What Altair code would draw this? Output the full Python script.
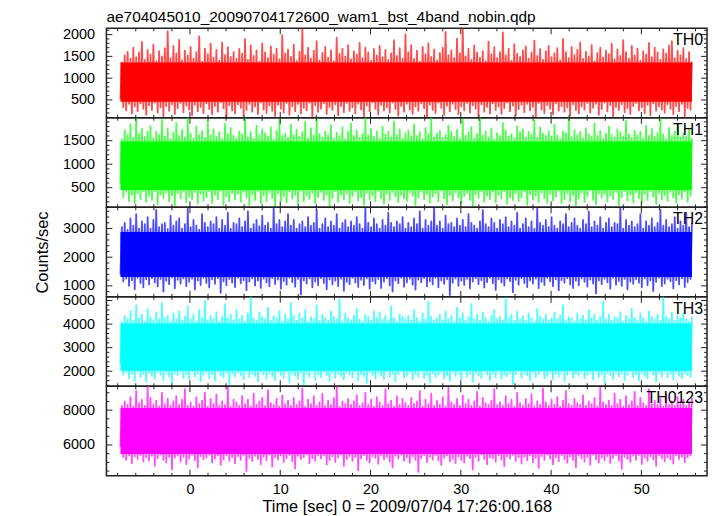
import altair as alt
import pandas as pd

TITLE = "ae704045010_20090704172600_wam1_bst_4band_nobin.qdp"
X_TITLE = "Time [sec] 0 = 2009/07/04 17:26:00.168"
Y_TITLE = "Counts/sec"
BANDS = ["TH0", "TH1", "TH2", "TH3", "TH0123"]
COLORS = ["#ff0000", "#00ff00", "#0000ff", "#00ffff", "#ff00ff"]

T_START, T_END = -7.7, 55.6
X_DOMAIN = [-9.25, 57.27]
Y_DOMAINS = [[89, 2144], [83, 1986], [618, 3740], [1359, 5158], [4229, 9371]]
# densely filled part of each trace (lower, upper)
CORE = [[460, 1360], [450, 1480], [1310, 2880], [2020, 4030], [5480, 8120]]

X_MAJOR = [0, 10, 20, 30, 40, 50]
X_MINOR = [-8, -6, -4, -2, 2, 4, 6, 8, 12, 14, 16, 18, 22, 24, 26, 28, 32, 34, 36, 38,
           42, 44, 46, 48, 52, 54, 56]
Y_MAJOR = [
    [500, 1000, 1500, 2000],
    [500, 1000, 1500],
    [1000, 2000, 3000],
    [2000, 3000, 4000, 5000],
    [6000, 8000],
]
Y_MINOR = [
    [100, 200, 300, 400, 600, 700, 800, 900, 1100, 1200, 1300, 1400, 1600, 1700, 1800, 1900, 2100],
    [100, 200, 300, 400, 600, 700, 800, 900, 1100, 1200, 1300, 1400, 1600, 1700, 1800, 1900],
    [800, 1200, 1400, 1600, 1800, 2200, 2400, 2600, 2800, 3200, 3400, 3600],
    [1400, 1600, 1800, 2200, 2400, 2600, 2800, 3200, 3400, 3600, 3800, 4200, 4400, 4600, 4800],
    [4500, 5000, 5500, 6500, 7000, 7500, 8500, 9000],
]

TH0 = [
    520, 1360, 330, 1520, 260, 1610, 410, 1450, 190, 1700, 350, 1480, 240, 1590, 420, 1830, 300, 1420, 160, 1650,
    380, 1540, 270, 1770, 440, 1390, 210, 1620, 330, 1500, 120, 1690, 360, 2080, 250, 1460, 400, 1740, 180, 1570,
    310, 1880, 430, 1410, 220, 1630, 370, 1520, 280, 1720, 150, 1450, 390, 1600, 240, 1960, 340, 1380, 200, 1680,
    420, 1550, 290, 1790, 170, 1470, 360, 1650, 230, 1400, 450, 1820, 310, 1530, 100, 1710, 380, 1490, 260, 1600,
    190, 1440, 400, 1670, 320, 1560, 140, 1900, 270, 1420, 410, 1750, 230, 1510, 350, 1640, 180, 1380, 440, 1800,
    280, 1590, 200, 1460, 370, 1730, 250, 1540, 130, 1680, 390, 1430, 300, 1990, 210, 1570, 430, 1660, 160, 1490,
    350, 1770, 240, 1400, 410, 1610, 190, 2150, 320, 1520, 260, 1700, 440, 1450, 110, 1630, 380, 1850, 230, 1410,
    300, 1580, 420, 1720, 180, 1470, 340, 1640, 270, 1390, 400, 1930, 150, 1560, 360, 1680, 220, 1500, 430, 1760,
    250, 1430, 330, 1620, 190, 1540, 410, 1810, 280, 1460, 120, 1700, 370, 1590, 240, 1400, 450, 1670, 300, 1520,
    170, 1740, 390, 1480, 260, 1650, 330, 1420, 210, 1570, 440, 1870, 290, 1510, 140, 1690, 360, 1450, 230, 2010,
    410, 1600, 280, 1760, 180, 1440, 350, 1630, 250, 1380, 420, 1720, 310, 1550, 100, 1800, 390, 1490, 270, 1660,
    200, 1410, 440, 1580, 320, 1700, 160, 2060, 370, 1530, 240, 1640, 410, 1460, 290, 1910, 180, 1570, 350, 2150,
    260, 1500, 430, 1680, 210, 1420, 380, 1750, 300, 1590, 130, 1470, 400, 1620, 230, 1390, 340, 1840, 190, 1550,
    420, 1710, 270, 1460, 350, 1600, 180, 2050, 310, 1520, 440, 1680, 240, 1400, 370, 1780, 150, 1560, 290, 1490,
    390, 1640, 220, 1730, 410, 1450, 260, 1590, 340, 1860, 110, 1510, 430, 1670, 280, 1420, 200, 1620, 380, 1740,
    300, 1480, 170, 1570, 420, 1690, 250, 1410, 360, 1900, 230, 1600, 330, 1460, 140, 1720, 400, 1530, 270, 1650,
    190, 1820, 350, 1440, 280, 1610, 430, 1500, 210, 1760, 320, 1390, 410, 1580, 160, 1700, 290, 1470, 440, 1630,
    240, 1550, 380, 1790, 120, 1430, 340, 1660, 270, 1510, 400, 1870, 220, 1600, 310, 1450, 180, 1740, 360, 1520,
    430, 1680, 260, 1400, 330, 1620, 200, 1540, 390, 1810, 150, 1480, 420, 1700, 250, 1590, 350, 1420, 280, 1660,
    210, 1570, 400, 1750, 300, 1850, 170, 1460, 360, 1630, 240, 1520, 410, 1690, 130, 1440, 320, 1600, 270, 1380,
]
TH1 = [
    580, 1530, 300, 1720, 410, 1610, 220, 1850, 350, 1560, 170, 1990, 380, 1640, 260, 1750, 430, 1580, 200, 1690,
    330, 1810, 240, 1550, 420, 1700, 150, 1620, 360, 1940, 280, 1590, 400, 1760, 210, 1530, 340, 1670, 120, 1880,
    390, 1600, 270, 1730, 430, 1570, 190, 1990, 310, 1650, 250, 1540, 410, 1800, 160, 1620, 370, 1710, 230, 1560,
    300, 1920, 420, 1610, 180, 1740, 350, 1580, 260, 1680, 440, 1530, 140, 1860, 320, 1640, 210, 1770, 390, 1600,
    250, 1550, 370, 1700, 200, 1630, 410, 1990, 290, 1570, 130, 1690, 360, 1540, 240, 1820, 430, 1610, 170, 1740,
    340, 1660, 220, 1590, 400, 1780, 280, 1520, 110, 1710, 380, 1950, 230, 1600, 320, 1650, 190, 1560, 420, 1840,
    270, 1620, 350, 1730, 150, 1580, 440, 1680, 210, 1900, 330, 1550, 260, 1760, 390, 1610, 170, 1990, 300, 1640,
    410, 1570, 240, 1700, 360, 1620, 120, 1830, 280, 1540, 430, 1670, 200, 1590, 350, 1780, 250, 1530, 380, 1690,
    180, 1870, 320, 1600, 420, 1720, 230, 1560, 300, 1650, 140, 1990, 390, 1610, 260, 1750, 340, 1580, 210, 1700,
    430, 1540, 280, 1800, 160, 1630, 370, 1690, 240, 1570, 410, 1910, 310, 1620, 190, 1740, 350, 1550, 270, 1660,
    220, 1720, 400, 1590, 330, 1850, 130, 1600, 290, 1680, 420, 1530, 250, 1770, 360, 1640, 180, 1990, 310, 1570,
    380, 1650, 210, 1710, 440, 1560, 270, 1620, 150, 1820, 340, 1690, 230, 1580, 400, 1730, 290, 1540, 170, 1960,
    320, 1600, 390, 1680, 240, 1790, 110, 1550, 360, 1640, 280, 1990, 420, 1610, 200, 1700, 330, 1570, 260, 1760,
    410, 1530, 190, 1660, 350, 1600, 270, 1880, 430, 1720, 160, 1590, 300, 1640, 240, 1550, 380, 1810, 220, 1680,
    290, 1740, 420, 1570, 140, 1690, 360, 1620, 250, 1930, 330, 1560, 200, 1780, 400, 1650, 280, 1600, 180, 1700,
    370, 1580, 230, 1840, 310, 1610, 430, 1540, 170, 1700, 260, 1660, 390, 1990, 210, 1570, 340, 1730, 120, 1620,
    270, 1690, 400, 1550, 200, 1760, 320, 1630, 440, 1580, 240, 1870, 150, 1600, 380, 1710, 290, 1540, 360, 1650,
    210, 1800, 330, 1620, 260, 1570, 410, 1740, 130, 1680, 300, 1590, 420, 1920, 230, 1640, 350, 1560, 190, 1720,
    400, 1610, 280, 1690, 170, 1550, 370, 1820, 240, 1600, 430, 1750, 310, 1580, 160, 1670, 390, 1990, 250, 1630,
    340, 1540, 220, 1770, 410, 1600, 290, 1700, 180, 1860, 360, 1570, 270, 1650, 420, 1590, 200, 1730, 330, 1560,
]
TH2 = [
    1400, 3050, 1150, 3200, 1250, 2950, 1000, 3350, 1200, 3100, 880, 3500, 1280, 3000, 1100, 3250, 950, 3150, 1230, 3400,
    1050, 3000, 1270, 3300, 1120, 3650, 980, 3050, 1240, 3150, 800, 3200, 1180, 2980, 1060, 3450, 1290, 3100, 920, 3250,
    1210, 3350, 1080, 3000, 1260, 3150, 990, 3700, 1140, 3050, 1250, 3300, 870, 3100, 1190, 2960, 1030, 3500, 1280, 3200,
    1100, 3050, 940, 3250, 1230, 3150, 1070, 3400, 1270, 3000, 760, 3300, 1160, 3100, 1020, 3550, 1240, 2990, 1120, 3200,
    960, 3150, 1280, 3350, 1090, 3050, 1200, 3250, 850, 3600, 1150, 3000, 1260, 3150, 1010, 3300, 1190, 3080, 930, 3450,
    1250, 3100, 1120, 3200, 990, 3000, 1270, 3750, 1060, 3150, 1220, 3300, 900, 3050, 1170, 3250, 1040, 3500, 1280, 3100,
    1130, 3300, 970, 3000, 1240, 3150, 700, 3250, 1190, 3050, 1080, 3400, 1260, 3100, 950, 3200, 1150, 3650, 1020, 3000,
    1270, 3150, 1100, 3350, 880, 3050, 1230, 3250, 1050, 3100, 1180, 3500, 990, 3000, 1250, 3200, 830, 3300, 1140, 3050,
    1060, 3250, 1280, 3100, 1120, 3400, 960, 3150, 1210, 3000, 1030, 3700, 1260, 3200, 900, 3050, 1170, 3350, 1080, 3150,
    1240, 3000, 930, 3300, 1150, 3100, 1270, 3550, 1010, 3200, 800, 3050, 1190, 3250, 1090, 3150, 1280, 3400, 970, 3000,
    1120, 3200, 1250, 3050, 1040, 3350, 870, 3150, 1220, 3600, 1130, 3000, 1270, 3300, 980, 3100, 1160, 3250, 1050, 3750,
    1280, 3100, 950, 3250, 1190, 3000, 1070, 3450, 1230, 3150, 680, 3200, 1110, 3050, 1260, 3350, 1000, 3100, 1180, 3300,
    1030, 3050, 1240, 3500, 910, 3200, 1150, 3100, 1270, 3000, 1060, 3250, 1200, 3650, 940, 3150, 1130, 3050, 1280, 3350,
    1090, 3200, 860, 3000, 1230, 3300, 1120, 3150, 1010, 3400, 1260, 3050, 1170, 3250, 780, 3100, 1210, 3550, 1040, 3000,
    1270, 3150, 1100, 3350, 960, 3050, 1190, 3250, 1080, 3000, 1250, 3700, 920, 3200, 1140, 3100, 1030, 3300, 1280, 3050,
    1160, 3400, 990, 3100, 1230, 3000, 850, 3250, 1200, 3150, 1110, 3500, 1270, 3050, 1050, 3200, 930, 3350, 1180, 3100,
    1020, 3000, 1260, 3300, 1140, 3150, 970, 3600, 1220, 3050, 1080, 3250, 740, 3100, 1190, 3400, 1060, 3000, 1250, 3200,
    1130, 3350, 900, 3050, 1280, 3200, 1040, 3150, 1170, 3750, 1000, 3000, 1240, 3300, 880, 3100, 1150, 3250, 1070, 3050,
    1230, 3150, 1110, 3500, 950, 3000, 1260, 3250, 1020, 3100, 1190, 3350, 820, 3050, 1140, 3200, 1280, 3650, 990, 3100,
    1080, 3300, 1250, 3050, 1160, 3150, 910, 3400, 1200, 3000, 1050, 3250, 1270, 3100, 960, 3550, 1130, 3050, 1240, 3200,
]
TH3 = [
    2300, 4100, 1850, 4350, 1950, 4200, 1700, 4550, 1900, 4150, 1600, 4800, 1980, 4250, 1750, 4400, 1880, 4100, 1550, 4650,
    1920, 4300, 1800, 4150, 1680, 4500, 1960, 4200, 1850, 4900, 1620, 4250, 1940, 4350, 1780, 4100, 1500, 4450, 1900, 4200,
    1830, 4550, 1970, 4150, 1720, 4300, 1880, 4750, 1650, 4200, 1990, 4400, 1760, 4100, 1910, 4600, 1580, 4250, 1850, 5000,
    1950, 4150, 1700, 4350, 1870, 4200, 1600, 4500, 1980, 4100, 1810, 4300, 1730, 4850, 1930, 4250, 1450, 4400, 1890, 4150,
    1760, 4600, 1940, 4200, 1840, 4350, 1660, 4100, 1990, 4450, 1740, 5150, 1900, 4250, 1800, 4150, 1570, 4500, 1960, 4300,
    1870, 4200, 1690, 4700, 1930, 4150, 1780, 4350, 1620, 4250, 1960, 4550, 1850, 4100, 1720, 4400, 1980, 4200, 1540, 4900,
    1910, 4350, 1820, 4150, 1680, 4450, 1950, 4250, 1400, 4600, 1880, 4100, 1770, 4300, 1990, 4200, 1640, 4800, 1860, 4150,
    1750, 4400, 1970, 4250, 1830, 4150, 1590, 4550, 1920, 4300, 1710, 4200, 1890, 5050, 1800, 4100, 1660, 4450, 1940, 4250,
    1860, 4150, 1730, 4350, 1990, 4650, 1620, 4200, 1880, 4100, 1790, 4400, 1500, 4300, 1950, 4150, 1840, 4550, 1700, 4250,
    1930, 4500, 1810, 4200, 1670, 4350, 1980, 4150, 1760, 4750, 1900, 4250, 1580, 4100, 1870, 4400, 1990, 4300, 1720, 4200,
    1800, 4350, 1950, 4150, 1640, 4600, 1890, 4250, 1780, 4100, 1990, 4450, 1700, 4200, 1850, 4950, 1520, 4300, 1920, 4150,
    1740, 4250, 1860, 4400, 1960, 4150, 1690, 4550, 1830, 4200, 1600, 4350, 1970, 4100, 1800, 4700, 1910, 4250, 1650, 4450,
    1990, 4150, 1770, 4300, 1880, 4850, 1550, 4200, 1940, 4400, 1820, 4150, 1710, 4500, 1980, 4250, 1860, 4100, 1630, 4350,
    1900, 4600, 1750, 4200, 1970, 4300, 1680, 4150, 1850, 5100, 1790, 4250, 1920, 4400, 1470, 4150, 1880, 4550, 1990, 4200,
    1720, 4350, 1910, 4150, 1830, 4450, 1610, 4250, 1960, 4100, 1740, 4650, 1870, 4300, 1990, 4200, 1690, 4400, 1810, 4150,
    1950, 4250, 1660, 4500, 1890, 4200, 1780, 4350, 1930, 4800, 1570, 4150, 1850, 4300, 1990, 4250, 1720, 4100, 1880, 4450,
    1810, 4200, 1970, 4350, 1700, 4150, 1840, 4600, 1920, 4250, 1640, 4400, 1990, 4150, 1760, 4300, 1870, 4950, 1530, 4200,
    1940, 4400, 1830, 4150, 1680, 4300, 1960, 4250, 1790, 4500, 1900, 4100, 1620, 4350, 1850, 4200, 1990, 4650, 1740, 4250,
    1870, 4150, 1600, 4450, 1920, 4250, 1810, 4100, 1700, 4550, 1980, 4300, 1860, 4200, 1560, 4400, 1930, 4150, 1780, 5150,
    1990, 4300, 1740, 4200, 1890, 4500, 1650, 4150, 1950, 4350, 1820, 4250, 1700, 4450, 1910, 4200, 1840, 4100, 1760, 4300,
]
TH0123 = [
    5900, 8250, 5300, 8500, 5150, 8300, 5400, 8750, 4950, 8200, 5350, 9100, 5200, 8400, 5420, 8600, 5050, 8250, 5300, 9350,
    5100, 8700, 5380, 8300, 4800, 8550, 5250, 8200, 5440, 9000, 5150, 8350, 5000, 8650, 5330, 8250, 4600, 8500, 5270, 8800,
    5400, 8300, 5050, 8600, 5320, 9200, 4900, 8250, 5210, 8450, 5430, 8200, 5120, 8750, 4700, 8350, 5360, 8550, 5180, 9000,
    5280, 8200, 5440, 8650, 5000, 8350, 5230, 8900, 5390, 8250, 4850, 8500, 5170, 8300, 5410, 9300, 5090, 8200, 5300, 8600,
    4950, 8450, 5350, 8250, 5150, 8800, 5420, 8350, 4500, 8600, 5260, 8200, 5080, 8950, 5380, 8300, 5200, 8500, 4900, 8700,
    5330, 8250, 5110, 9150, 5440, 8400, 4750, 8300, 5290, 8650, 5160, 8200, 5400, 8850, 5020, 8350, 5250, 8550, 5430, 8250,
    5060, 8700, 4650, 8300, 5370, 8500, 5190, 9250, 5300, 8200, 5450, 8600, 4950, 8350, 5240, 8800, 5100, 8250, 5390, 8450,
    5220, 8950, 5410, 8250, 4880, 8550, 5140, 8300, 5350, 8700, 5030, 9350, 5280, 8200, 5440, 8500, 4800, 8350, 5200, 8650,
    5360, 8300, 5080, 8500, 5300, 8850, 4550, 8250, 5230, 8400, 5420, 9000, 5130, 8300, 5000, 8600, 5340, 8200, 5260, 8750,
    4920, 8450, 5400, 8250, 5180, 9200, 5310, 8350, 5050, 8550, 4700, 8200, 5380, 8800, 5210, 8300, 5440, 8650, 5090, 8400,
    5290, 8250, 4980, 8700, 5350, 8350, 5150, 8500, 4450, 9100, 5250, 8200, 5410, 8600, 5020, 8350, 5320, 8950, 5170, 8250,
    5430, 8550, 5110, 8300, 4850, 8750, 5270, 8200, 5390, 9300, 5060, 8450, 5200, 8300, 4960, 8650, 5340, 8250, 5140, 8850,
    5000, 8350, 5380, 8600, 5240, 8250, 4600, 8500, 5320, 9050, 5100, 8200, 5450, 8700, 5190, 8400, 4900, 8300, 5300, 8550,
    5250, 9200, 5040, 8300, 5410, 8450, 5160, 8250, 4780, 8800, 5350, 8350, 5220, 8600, 5430, 8200, 5080, 9000, 5290, 8400,
    4940, 8250, 5330, 8650, 5120, 8350, 5400, 8900, 5010, 8200, 5260, 8500, 4680, 8300, 5370, 9250, 5150, 8450, 5440, 8250,
    5210, 8600, 4880, 8300, 5300, 8750, 5070, 8200, 5420, 8550, 5180, 9100, 4980, 8350, 5340, 8250, 5130, 8650, 4720, 8400,
    5390, 8300, 5230, 8850, 5050, 8250, 5310, 8500, 4860, 8350, 5440, 8700, 5170, 8200, 5000, 9300, 5280, 8450, 5120, 8300,
    5360, 8550, 4970, 8250, 5250, 8950, 5410, 8350, 5100, 8600, 4620, 8200, 5320, 8800, 5200, 8300, 5030, 8500, 5380, 9050,
    5150, 8250, 5430, 8700, 4900, 8400, 5270, 8250, 5090, 9200, 5350, 8350, 5180, 8550, 4800, 8300, 5400, 8650, 5240, 8200,
    5060, 8900, 5300, 8300, 5170, 8500, 4940, 8250, 5410, 8750, 5200, 8350, 5330, 8600, 5010, 8250, 5280, 8450, 5400, 8700,
]
SERIES = [TH0, TH1, TH2, TH3, TH0123]

FONT = "Liberation Sans"
W, H = 604, 90
MAJ, MIN = 6, 3
TICK_COLOR = "#222222"


def panel(k):
    last = k == len(SERIES) - 1
    vals = SERIES[k]
    n = len(vals)
    dt = (T_END - T_START) / (n - 1)
    df = pd.DataFrame({"t": [T_START + i * dt for i in range(n)], "v": vals})
    color = COLORS[k]
    xs = alt.Scale(domain=X_DOMAIN, nice=False, zero=False)
    ys = alt.Scale(domain=Y_DOMAINS[k], nice=False, zero=False)
    if last:
        xaxis = alt.Axis(values=X_MAJOR, ticks=False, domain=False, grid=False, format="d",
                         labelPadding=7, title=X_TITLE, titlePadding=2, labelFlush=False)
    else:
        xaxis = None
    ykw = dict(values=Y_MAJOR[k], ticks=False, domain=False, grid=False, labelPadding=12,
               format="d", labelFlush=False)
    if k == 2:
        ykw.update(title=Y_TITLE, titlePadding=12)
    else:
        ykw.update(title=None)
    yaxis = alt.Axis(**ykw)

    core = alt.Chart(pd.DataFrame({"t0": [T_START], "t1": [T_END],
                                   "lo": [CORE[k][0]], "hi": [CORE[k][1]]})).mark_rect(
        color=color, clip=True).encode(
        x=alt.X("t0:Q", scale=xs, axis=xaxis), x2="t1",
        y=alt.Y("lo:Q", scale=ys, axis=yaxis), y2="hi")

    line = alt.Chart(df).mark_line(color=color, strokeWidth=1.8, strokeOpacity=0.7,
                                   clip=True, strokeJoin="round").encode(
        x=alt.X("t:Q", scale=xs, axis=xaxis),
        y=alt.Y("v:Q", scale=ys, axis=yaxis))

    layers = [core, line]
    for vals_t, ln in ((Y_MAJOR[k], MAJ), (Y_MINOR[k], MIN)):
        d = pd.DataFrame({"v": vals_t})
        layers.append(alt.Chart(d).mark_rule(color=TICK_COLOR, strokeWidth=1).encode(
            y=alt.Y("v:Q", scale=ys, axis=yaxis), x=alt.value(0), x2=alt.value(ln)))
        layers.append(alt.Chart(d).mark_rule(color=TICK_COLOR, strokeWidth=1).encode(
            y=alt.Y("v:Q", scale=ys, axis=yaxis), x=alt.value(W), x2=alt.value(W - ln)))
    for vals_t, ln in ((X_MAJOR, MAJ), (X_MINOR, MIN)):
        d = pd.DataFrame({"v": vals_t})
        layers.append(alt.Chart(d).mark_rule(color=TICK_COLOR, strokeWidth=1).encode(
            x=alt.X("v:Q", scale=xs, axis=xaxis), y=alt.value(0), y2=alt.value(ln)))
        layers.append(alt.Chart(d).mark_rule(color=TICK_COLOR, strokeWidth=1).encode(
            x=alt.X("v:Q", scale=xs, axis=xaxis), y=alt.value(H), y2=alt.value(H - ln)))

    label = alt.Chart(pd.DataFrame({"lab": [BANDS[k]]})).mark_text(
        align="right", baseline="top", font=FONT, fontSize=16, color="black").encode(
        text="lab:N", x=alt.value(W - 4), y=alt.value(4))
    layers.append(label)

    props = dict(width=W, height=H)
    if k == 0:
        props["title"] = alt.TitleParams(TITLE, anchor="start", frame="group", font=FONT,
                                         fontSize=15.5, fontWeight="normal", color="black",
                                         offset=1)
    return alt.layer(*layers).properties(**props)


chart = alt.vconcat(*[panel(k) for k in range(len(SERIES))], spacing=0,
                    bounds="flush").properties(
    padding={"left": 25, "top": 0, "right": 0, "bottom": 0}
).configure_view(stroke="#222222", strokeWidth=1.5).configure_axis(
    labelFont=FONT, labelFontSize=14.5, labelColor="black",
    titleFont=FONT, titleFontSize=16.5, titleColor="black", titleFontWeight="normal"
).configure_concat(spacing=0)

chart.save("out.html", embed_options={"renderer": "svg", "actions": False})
